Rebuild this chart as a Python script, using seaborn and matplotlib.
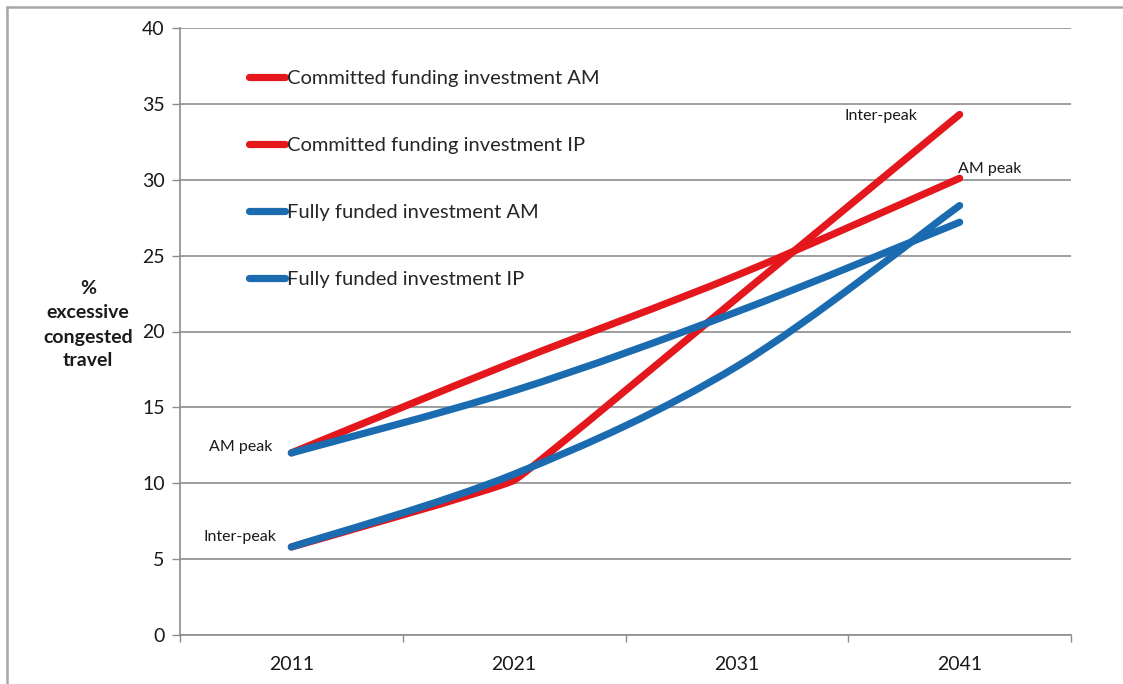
import numpy as np
import pandas as pd
import matplotlib
matplotlib.use("Agg")
import matplotlib.pyplot as plt
from matplotlib.lines import Line2D
from matplotlib.path import Path
from matplotlib.patheffects import AbstractPathEffect
from matplotlib.transforms import IdentityTransform
import seaborn as sns

# ---- data -------------------------------------------------------------
years = ["2011", "2021", "2031", "2041"]
committed_am = [12.0, 18.0, 23.7, 30.1]
committed_ip = [5.8, 10.2, 22.2, 34.3]
fully_am = [12.0, 16.1, 21.3, 27.2]
fully_ip = [5.8, 10.6, 17.7, 28.3]
series_names = [
    "Committed funding investment AM",
    "Committed funding investment IP",
    "Fully funded investment AM",
    "Fully funded investment IP",
]
y_ticks = [0, 5, 10, 15, 20, 25, 30, 35, 40]

RED = "#E3171C"
BLUE = "#1B6BB0"
colors = [RED, RED, BLUE, BLUE]
# curve smoothing strength per series (0 = straight segments)
tensions = [1.0, 0.2, 1.0, 1.0]

frames = []
for name, vals in zip(series_names,
                      [committed_am, committed_ip, fully_am, fully_ip]):
    frames.append(pd.DataFrame({"year": years, "pos": range(len(years)),
                                "value": vals, "series": name}))
df = pd.concat(frames, ignore_index=True)


class SmoothCurve(AbstractPathEffect):
    """Render a polyline as a Catmull-Rom style cubic Bezier curve."""

    def __init__(self, tension=1.0):
        super().__init__()
        self.tension = tension

    def draw_path(self, renderer, gc, tpath, affine, rgbFace=None):
        pts = affine.transform(tpath.vertices)
        n = len(pts)
        if n < 3:
            renderer.draw_path(gc, tpath, affine, rgbFace)
            return
        k = self.tension / 6.0
        verts = [pts[0]]
        codes = [Path.MOVETO]
        for i in range(n - 1):
            p0 = pts[i - 1] if i > 0 else pts[i]
            p1 = pts[i]
            p2 = pts[i + 1]
            p3 = pts[i + 2] if i + 2 < n else pts[i + 1]
            c1 = p1 + (p2 - p0) * k
            c2 = p2 - (p3 - p1) * k
            verts += [c1, c2, p2]
            codes += [Path.CURVE4] * 3
        renderer.draw_path(gc, Path(np.array(verts), codes),
                           IdentityTransform(), rgbFace)


sns.set_theme(style="white")
plt.rcParams["font.family"] = ["Lato", "DejaVu Sans"]

fig = plt.figure(figsize=(11.23, 6.84), dpi=100)
ax = fig.add_axes([180 / 1123, 49 / 684, 891 / 1123, 607 / 684])

sns.lineplot(data=df, x="pos", y="value", hue="series",
             palette=dict(zip(series_names, colors)),
             hue_order=series_names, linewidth=5.2, ax=ax,
             solid_capstyle="round", legend=False, zorder=3)
for line, t in zip(ax.get_lines(), tensions):
    line.set_path_effects([SmoothCurve(t)])

# axes styling
ax.set_xlim(-0.5, len(years) - 0.5)
ax.set_ylim(0, 40)
ax.set_yticks(y_ticks)
ax.set_yticklabels([str(t) for t in y_ticks])
ax.set_xticks(range(len(years)))
ax.set_xticklabels(years)
ax.set_xticks(np.arange(-0.5, len(years), 1.0), minor=True)
ax.tick_params(axis="x", which="major", length=0, pad=15,
               labelsize=14, labelcolor="#1a1a1a")
ax.tick_params(axis="x", which="minor", length=5, width=1,
               color="#8c8c8c", direction="out", bottom=True)
ax.tick_params(axis="y", which="major", length=6, width=1,
               color="#8c8c8c", direction="out", left=True, pad=5,
               labelsize=14, labelcolor="#1a1a1a")
ax.set_xlabel("")
ax.set_ylabel("")
ax.grid(axis="y", color="#8c8c8c", linewidth=1.2)
ax.grid(axis="x", visible=False)
ax.set_axisbelow(True)
for side in ["top", "right"]:
    ax.spines[side].set_visible(False)
for side in ["left", "bottom"]:
    ax.spines[side].set_color("#8c8c8c")
    ax.spines[side].set_linewidth(1.2)

# legend
handles = [Line2D([0], [0], color=c, linewidth=5.2, solid_capstyle="round")
           for c in colors]
ax.legend(handles, series_names, loc="upper left",
          bbox_to_anchor=(0.068, 0.944), frameon=False, fontsize=14.5,
          handlelength=1.8, handletextpad=0.1, labelspacing=2.47,
          borderaxespad=0)

# point labels
lab_kw = dict(textcoords="offset pixels", fontsize=11.5, color="#1a1a1a",
              va="center")
ax.annotate("AM peak", xy=(0, committed_am[0]), xytext=(-19, 6),
            ha="right", **lab_kw)
ax.annotate("Inter-peak", xy=(0, committed_ip[0]), xytext=(-15, 10),
            ha="right", **lab_kw)
ax.annotate("Inter-peak", xy=(3, committed_ip[3]), xytext=(-42, -2),
            ha="right", **lab_kw)
ax.annotate("AM peak", xy=(3, committed_am[3]), xytext=(-2, 9),
            ha="left", **lab_kw)

# y axis title
fig.text(88 / 1123, 1 - 325 / 684, "%\nexcessive\ncongested\ntravel",
         ha="center", va="center", fontsize=14, fontweight="bold",
         color="#1a1a1a", linespacing=1.5)

# chart area border (left and top edges)
fig.add_artist(Line2D([7 / 1123, 7 / 1123], [0, 1 - 7 / 684],
                      transform=fig.transFigure, color="#a6a6a6",
                      linewidth=1.8))
fig.add_artist(Line2D([7 / 1123, 1], [1 - 7 / 684, 1 - 7 / 684],
                      transform=fig.transFigure, color="#a6a6a6",
                      linewidth=1.8))

fig.savefig("out.png", dpi=100, facecolor="white")
